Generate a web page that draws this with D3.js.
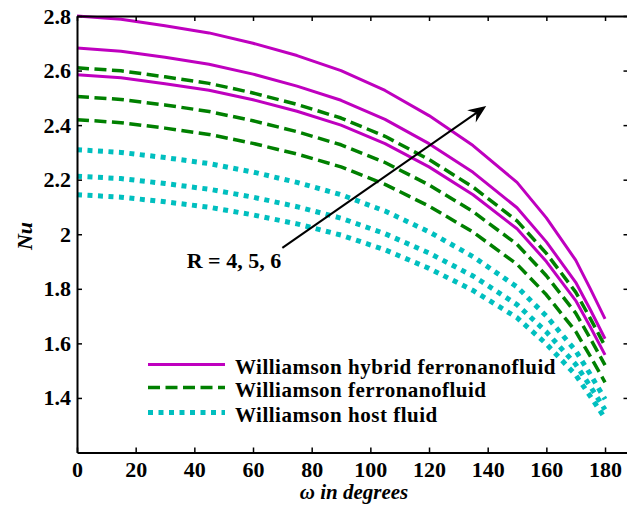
<!DOCTYPE html>
<html>
<head>
<meta charset="utf-8">
<script src="https://cdn.jsdelivr.net/npm/d3@7"></script>
<style>
  html, body { margin: 0; padding: 0; background: #fff; }
  svg { display: block; }
  text { font-family: "Liberation Serif", "Times New Roman", serif; font-weight: bold; fill: #000; }
</style>
</head>
<body>
<svg id="chart" width="627" height="506"></svg>
<script>
// Angle ω (degrees) at which Nu is sampled
const omega = [0, 15, 30, 45, 60, 75, 90, 105, 120, 135, 150, 160, 170, 175, 180];

// Nusselt number, Williamson hybrid ferronanofluid, R = 4, 5, 6
const hybridR4 = [2.585, 2.574, 2.552, 2.528, 2.493, 2.451, 2.400, 2.332, 2.247, 2.145, 2.020, 1.900, 1.757, 1.660, 1.558];
const hybridR5 = [2.683, 2.671, 2.649, 2.623, 2.587, 2.543, 2.491, 2.421, 2.332, 2.227, 2.097, 1.972, 1.824, 1.723, 1.617];
const hybridR6 = [2.800, 2.788, 2.764, 2.738, 2.700, 2.655, 2.600, 2.527, 2.435, 2.325, 2.190, 2.060, 1.905, 1.800, 1.690];

// Williamson ferronanofluid, R = 4, 5, 6
const ferroR4 = [2.420, 2.409, 2.389, 2.366, 2.333, 2.294, 2.247, 2.183, 2.103, 2.008, 1.890, 1.778, 1.644, 1.552, 1.457];
const ferroR5 = [2.505, 2.494, 2.474, 2.450, 2.416, 2.376, 2.328, 2.263, 2.181, 2.083, 1.963, 1.848, 1.711, 1.618, 1.520];
const ferroR6 = [2.610, 2.599, 2.577, 2.553, 2.518, 2.476, 2.426, 2.359, 2.274, 2.173, 2.049, 1.930, 1.788, 1.691, 1.590];

// Williamson host fluid, R = 4, 5, 6
const hostR4 = [2.145, 2.136, 2.119, 2.099, 2.071, 2.038, 1.997, 1.943, 1.875, 1.794, 1.694, 1.598, 1.484, 1.406, 1.325];
const hostR5 = [2.213, 2.204, 2.186, 2.165, 2.136, 2.101, 2.059, 2.002, 1.931, 1.847, 1.742, 1.642, 1.523, 1.442, 1.357];
const hostR6 = [2.310, 2.300, 2.281, 2.259, 2.228, 2.190, 2.145, 2.085, 2.009, 1.918, 1.807, 1.700, 1.573, 1.486, 1.395];

const xTicks = [0, 20, 40, 60, 80, 100, 120, 140, 160, 180];
const yTicks = [1.4, 1.6, 1.8, 2.0, 2.2, 2.4, 2.6, 2.8];

const legendLabels = ["Williamson hybrid ferronanofluid", "Williamson ferronanofluid", "Williamson host fluid"];
const annotationLabel = "R = 4, 5, 6";
const xTitle = "ω in degrees";
const yTitle = "Nu";

// Arrow across the R-families: tail and head in data units (ω, Nu)
const arrowFrom = [70, 1.95];
const arrowTo = [139.5, 2.47];
const annotationAt = [37.4, 1.876];

// Fluid groups with their line style
const groups = [
  { name: legendLabels[0], color: "#bf00bf", width: 3, dash: null, series: [hybridR4, hybridR5, hybridR6] },
  { name: legendLabels[1], color: "#008000", width: 3.5, dash: "12,5.5", series: [ferroR4, ferroR5, ferroR6] },
  { name: legendLabels[2], color: "#00bfbf", width: 5, dash: "5,5.5", series: [hostR4, hostR5, hostR6] }
];

const svg = d3.select("#chart");
const m = { left: 77, right: 628.5, top: 16, bottom: 452.5 };

const x = d3.scaleLinear().domain([0, 188]).range([m.left, m.right]);
const y = d3.scaleLinear().domain([1.2, 2.8]).range([m.bottom, m.top]);

const line = d3.line()
  .x((d, i) => x(omega[i]))
  .y(d => y(d));

// Curves
const curves = svg.append("g");
groups.forEach(g => {
  g.series.forEach(s => {
    curves.append("path")
      .datum(s)
      .attr("d", line)
      .attr("fill", "none")
      .attr("stroke", g.color)
      .attr("stroke-width", g.width)
      .attr("stroke-dasharray", g.dash)
      .attr("stroke-linejoin", "round");
  });
});

// Axes box with inward ticks
const fmt = d => String(+d.toFixed(1));
function styleAxis(sel, fontSize) {
  sel.select(".domain").attr("stroke", "#000").attr("stroke-width", 2);
  sel.selectAll(".tick line").attr("stroke", "#000").attr("stroke-width", 1.5);
  sel.selectAll(".tick text")
    .style("font-family", '"Liberation Serif", "Times New Roman", serif')
    .style("font-weight", "bold")
    .style("font-size", fontSize + "px")
    .attr("fill", "#000");
}

svg.append("g")
  .attr("transform", `translate(0,${m.bottom})`)
  .call(d3.axisBottom(x).tickValues(xTicks).tickFormat(d3.format("d")).tickSizeInner(-5).tickSizeOuter(0).tickPadding(9))
  .call(s => styleAxis(s, 22));

svg.append("g")
  .attr("transform", `translate(0,${m.top})`)
  .call(d3.axisTop(x).tickValues(xTicks).tickFormat("").tickSizeInner(-5).tickSizeOuter(0))
  .call(s => styleAxis(s, 22));

svg.append("g")
  .attr("transform", `translate(${m.left},0)`)
  .call(d3.axisLeft(y).tickValues(yTicks).tickFormat(fmt).tickSizeInner(-5).tickSizeOuter(0).tickPadding(6))
  .call(s => styleAxis(s, 22));

svg.append("g")
  .attr("transform", `translate(${m.right},0)`)
  .call(d3.axisRight(y).tickValues(yTicks).tickFormat("").tickSizeInner(-5).tickSizeOuter(0))
  .call(s => styleAxis(s, 22));

// Axis titles
svg.append("text")
  .attr("x", 354)
  .attr("y", 499)
  .attr("text-anchor", "middle")
  .style("font-style", "italic")
  .style("font-size", "21px")
  .text(xTitle);

svg.append("text")
  .attr("transform", "translate(32,236) rotate(-90)")
  .attr("text-anchor", "middle")
  .style("font-style", "italic")
  .style("font-size", "22px")
  .text(yTitle);

// Arrow annotation
const ax0 = x(arrowFrom[0]), ay0 = y(arrowFrom[1]);
const ax1 = x(arrowTo[0]), ay1 = y(arrowTo[1]);
const ang = Math.atan2(ay1 - ay0, ax1 - ax0);
svg.append("line")
  .attr("x1", ax0).attr("y1", ay0)
  .attr("x2", ax1 - 8 * Math.cos(ang)).attr("y2", ay1 - 8 * Math.sin(ang))
  .attr("stroke", "#000").attr("stroke-width", 2);

const head = d3.path();
head.moveTo(0, 0);
head.lineTo(-18, -7.5);
head.lineTo(-12, 0);
head.lineTo(-18, 7.5);
head.closePath();
svg.append("path")
  .attr("d", head.toString())
  .attr("transform", `translate(${ax1},${ay1}) rotate(${ang * 180 / Math.PI})`)
  .attr("fill", "#000");

svg.append("text")
  .attr("x", x(annotationAt[0]))
  .attr("y", y(annotationAt[1]))
  .style("font-size", "22px")
  .text(annotationLabel);

// Legend
const legend = svg.append("g");
const legendY = [364.5, 387.5, 412.5];
groups.forEach((g, i) => {
  legend.append("line")
    .attr("x1", 148).attr("x2", 225)
    .attr("y1", legendY[i]).attr("y2", legendY[i])
    .attr("stroke", g.color)
    .attr("stroke-width", g.width)
    .attr("stroke-dasharray", g.dash);
  legend.append("text")
    .attr("x", 235)
    .attr("y", legendY[i] + 9)
    .style("font-size", "21px")
    .style("letter-spacing", "0.5px")
    .text(g.name);
});
</script>
</body>
</html>
